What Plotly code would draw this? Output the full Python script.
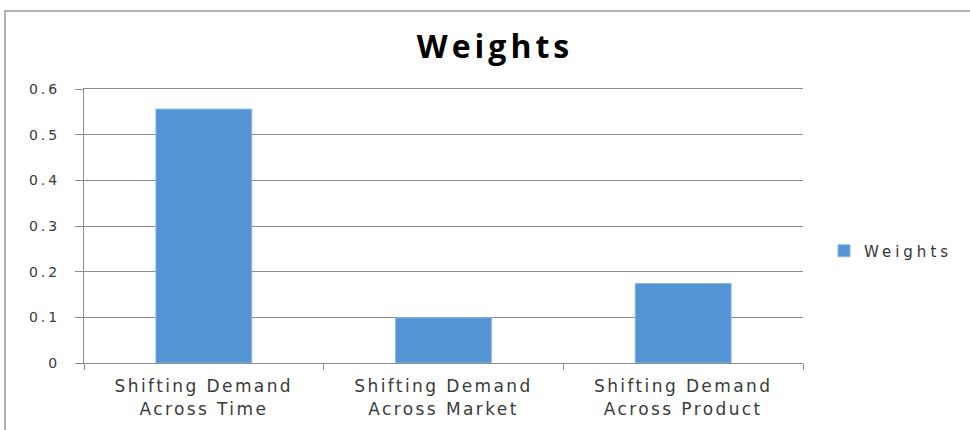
import plotly.graph_objects as go

categories = ["Shifting Demand<br>Across Time", "Shifting Demand<br>Across Market", "Shifting Demand<br>Across Product"]
weights = [0.556, 0.099, 0.174]
y_ticks = [0, 0.1, 0.2, 0.3, 0.4, 0.5, 0.6]
y_tick_labels = ["0", "0.1", "0.2", "0.3", "0.4", "0.5", "0.6"]

W, H = 970, 430
L, R, T, B = 84, 803, 89, 363
pw, ph = R - L, B - T

def px_x(x):
    return (x - L) / pw

def px_y(y):
    return (B - y) / ph

fig = go.Figure()
fig.add_trace(go.Bar(
    x=categories, y=weights, name="Weights",
    marker=dict(color="#5394d4", line=dict(color="#8ab8e6", width=1)),
))

fig.update_layout(
    width=W, height=H,
    margin=dict(l=L, r=W - R, t=T, b=H - B),
    paper_bgcolor="white", plot_bgcolor="white",
    bargap=0.6,
    showlegend=True,
    title=dict(text="<b>Weights</b>", x=495 / W, xanchor="center", xref="container",
               y=1 - 47 / H, yanchor="middle", yref="container",
               font=dict(family="Open Sans", size=32, color="black")),
    legend=dict(x=px_x(824), y=px_y(251), xanchor="left", yanchor="middle",
                font=dict(family="DejaVu Sans", size=15, color="#333333"),
                bgcolor="rgba(0,0,0,0)", itemwidth=30),
    font=dict(family="DejaVu Sans", color="#333333"),
)
fig.update_yaxes(
    range=[0, 0.6], tickvals=y_ticks, ticktext=y_tick_labels,
    showgrid=True, gridcolor="#8c8c8c", gridwidth=1,
    showline=True, linecolor="#8c8c8c", linewidth=1,
    ticks="outside", ticklen=8, tickcolor="#8c8c8c",
    tickfont=dict(family="DejaVu Sans", size=14, color="#3a3a3a"),
    ticklabelstandoff=12,
    zeroline=False,
)
fig.update_xaxes(
    showline=True, linecolor="#8c8c8c", linewidth=1, mirror=True,
    ticks="outside", ticklen=6, tickcolor="#8c8c8c", tickson="boundaries",
    tickfont=dict(family="DejaVu Sans", size=17, color="#3a3a3a"),
    ticklabelstandoff=8,
)
# outer chart border
fig.add_shape(type="rect", xref="paper", yref="paper",
              x0=px_x(5), x1=px_x(990), y0=px_y(445), y1=px_y(11),
              line=dict(color="#9a9a9a", width=1.5), fillcolor="rgba(0,0,0,0)", layer="below")

post = """
function sp(sel, v){document.querySelectorAll(sel).forEach(function(e){e.style.letterSpacing=v;});}
sp('.xtick text','2.4px');
sp('.ytick text','3px');
sp('.legendtext','4px');
sp('.gtitle','4px');
document.querySelectorAll('.legend, .legend *').forEach(function(e){e.removeAttribute('clip-path');});
"""
fig.write_html("out.html", post_script=post)
